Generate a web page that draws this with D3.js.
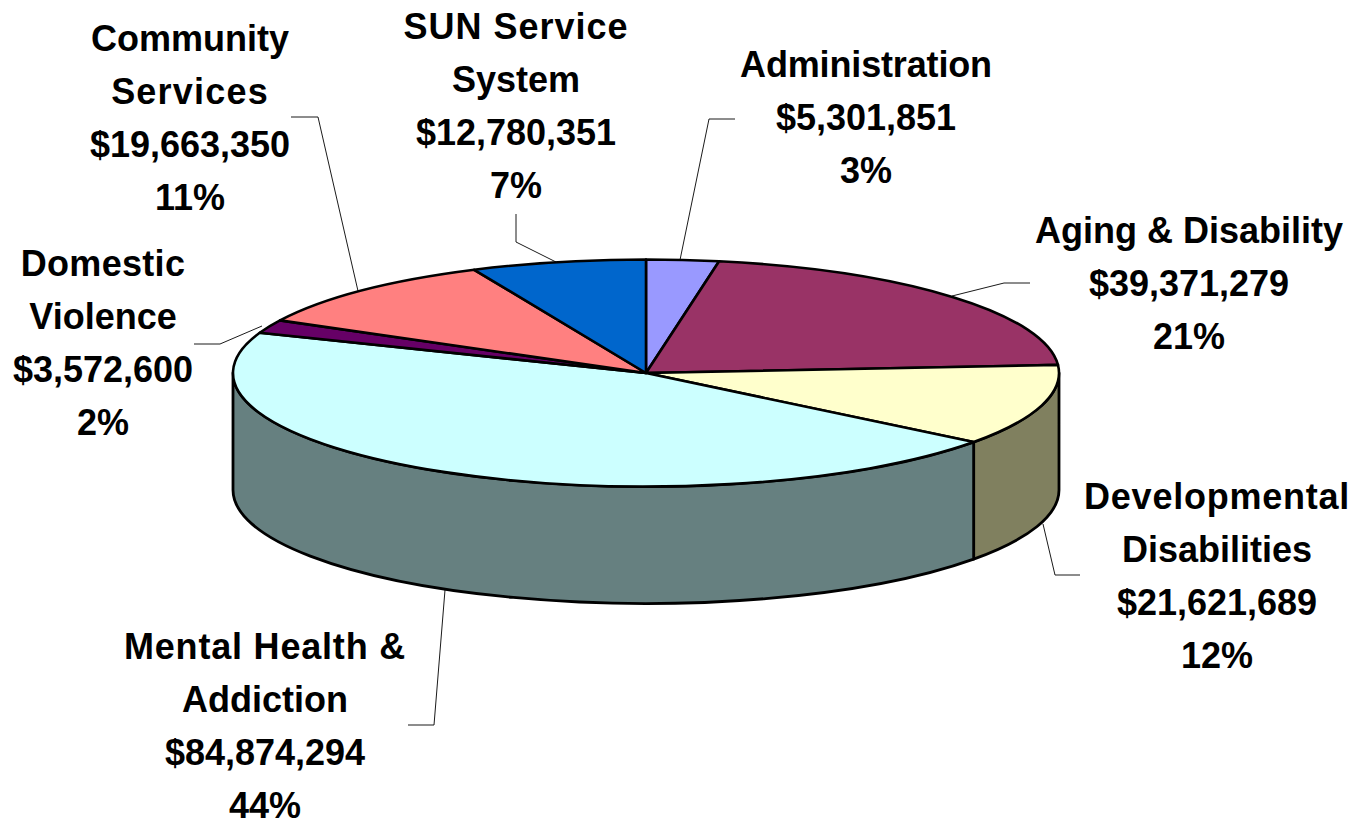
<!DOCTYPE html>
<html><head><meta charset="utf-8">
<script src="https://cdn.jsdelivr.net/npm/d3@7/dist/d3.min.js"></script>
<style>html,body{margin:0;background:#fff}svg{display:block}text{font-family:"Liberation Sans",Arial,sans-serif;font-weight:700;font-size:36px;fill:#000;text-anchor:middle}</style>
</head><body><svg width="1360" height="819"></svg>
<script>
const categories=["Administration","Aging & Disability","Developmental Disabilities","Mental Health & Addiction","Domestic Violence","Community Services","SUN Service System"];
const values=[5301851,39371279,21621689,84874294,3572600,19663350,12780351];
const percents=["3%","21%","12%","44%","2%","11%","7%"];
const topColors=["#9999ff","#993366","#ffffcc","#ccffff","#660066","#ff8080","#0066cc"];
const sideColors=["#6b6bb3","#6b2447","#80805f","#668080","#330033","#804040","#003366"];
const labelLines=[["Administration"],["Aging & Disability"],["Developmental","Disabilities"],["Mental Health &","Addiction"],["Domestic","Violence"],["Community","Services"],["SUN Service","System"]];
const labelPos=[[866,77],[1189,243],[1217,509],[265,659],[103,276],[190,51],[516,39]];
const leaders=[[[680,260],[709,119],[735,119]],[[952,296],[1004,283],[1030,283]],[[1043,524],[1055,575],[1080,575]],[[445,590],[434,725],[408,725]],[[262,326],[220,344],[194,344]],[[358,291],[318,117],[291,117]],[[556,262],[516,242],[516,214]]];
const tracking={"SUN Service":1,"Developmental":0.75,"Mental Health &":0.8,"Services":1.2,"Domestic":0.3,"Administration":-0.15};
const cx=646,cy=373,rx=413,ry=113.5,depth=117;
const svg=d3.select("svg");
const arcs=d3.pie().sort(null).value(d=>d)(values);
const px=a=>cx+rx*Math.sin(a), py=a=>cy-ry*Math.cos(a);
const fmt=d3.format("$,");
// side wall
const side=svg.append("g");
arcs.forEach((d,i)=>{
  const a0=Math.max(d.startAngle,Math.PI/2), a1=Math.min(d.endAngle,Math.PI*1.5);
  if(a1<=a0) return;
  const p=`M${px(a0)},${py(a0)}A${rx},${ry} 0 0 1 ${px(a1)},${py(a1)}L${px(a1)},${py(a1)+depth}A${rx},${ry} 0 0 0 ${px(a0)},${py(a0)+depth}Z`;
  side.append("path").attr("d",p).attr("fill",sideColors[i]).attr("stroke","#000").attr("stroke-width",2.8).attr("stroke-linejoin","round");
});
// top
const arc=d3.arc().innerRadius(0).outerRadius(rx);
svg.append("g").attr("transform",`translate(${cx},${cy}) scale(1,${ry/rx})`)
 .selectAll("path").data(arcs).join("path").attr("d",arc)
 .attr("fill",(d,i)=>topColors[i]).attr("stroke","#000").attr("stroke-width",2.6)
 .attr("vector-effect","non-scaling-stroke").attr("stroke-linejoin","round");
// leaders
const line=d3.line();
svg.append("g").selectAll("path").data(leaders).join("path").attr("d",d=>line(d)).attr("fill","none").attr("stroke","#000").attr("stroke-width",0.9);
// labels
const lh=53;
categories.forEach((c,i)=>{
  const g=svg.append("text").attr("transform",`translate(${labelPos[i][0]},${labelPos[i][1]})`);
  const lines=[...labelLines[i],fmt(values[i]),percents[i]];
  lines.forEach((t,j)=>g.append("tspan").attr("x",0).attr("y",j*lh).attr("letter-spacing",tracking[t]||null).text(t));
});
</script></body></html>
